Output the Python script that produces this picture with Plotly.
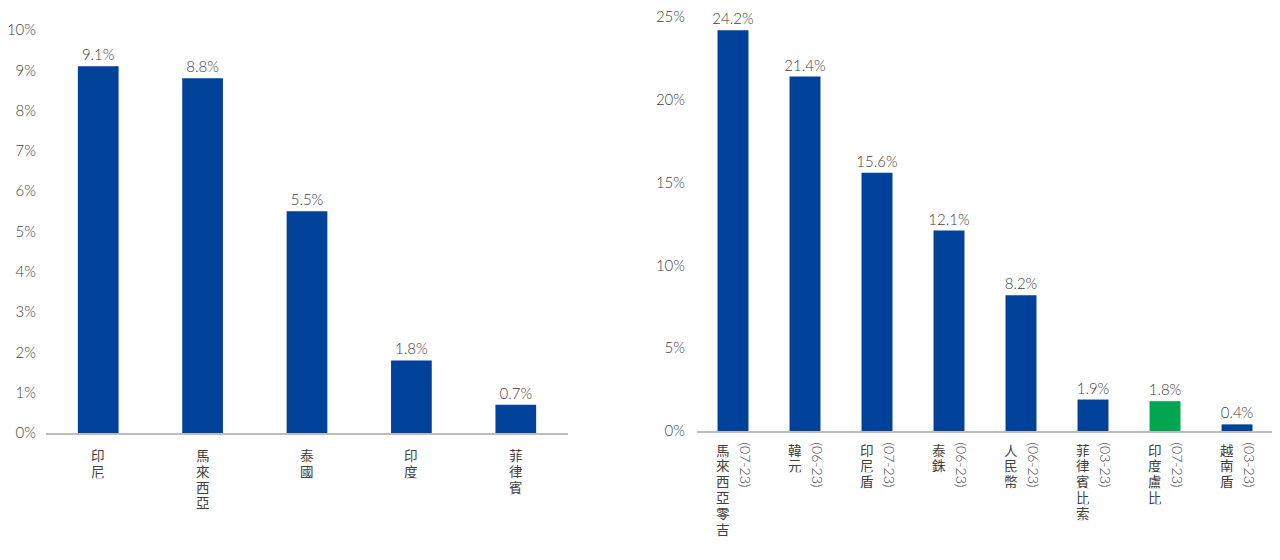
import plotly.graph_objects as go

# ---- data ----
left_cats = ["印尼", "馬來西亞", "泰國", "印度", "菲律賓"]
left_vals = [9.1, 8.8, 5.5, 1.8, 0.7]
left_ticks = [0, 1, 2, 3, 4, 5, 6, 7, 8, 9, 10]

right_names = ["馬來西亞零吉", "韓元", "印尼盾", "泰銖", "人民幣", "菲律賓比索", "印度盧比", "越南盾"]
right_dates = ["(07-23)", "(06-23)", "(07-23)", "(06-23)", "(06-23)", "(03-23)", "(07-23)", "(03-23)"]
right_vals = [24.2, 21.4, 15.6, 12.1, 8.2, 1.9, 1.8, 0.4]
right_ticks = [0, 5, 10, 15, 20, 25]
highlight = "印度盧比"

# ---- styles ----
OFF = 8                     # page body margin
W, H = 1280 - OFF, 560 - OFF
BLUE = "#00419a"
GREEN = "#00a650"
TXT = "#404040"
LATIN = "Lato, 'DejaVu Sans', sans-serif"
CJK = "'Noto Sans CJK TC', 'Noto Sans CJK SC', sans-serif"
AXIS_LINE = "#bcbcbc"
PITCH = 15.8
LAT_FONT = dict(family=LATIN, size=15, color=TXT, weight=300)

def px_x(p):
    return (p - OFF) / W

def px_y(p):
    return (H - (p - OFF)) / H

fig = go.Figure()

fig.add_trace(go.Bar(
    x=left_cats, y=left_vals, xaxis="x", yaxis="y", width=0.39,
    marker=dict(color=BLUE, line=dict(width=0)),
    text=[f"{v:.1f}%" for v in left_vals], textposition="outside",
    constraintext="none", textfont=LAT_FONT,
    cliponaxis=False, hoverinfo="skip", showlegend=False,
))

right_colors = [GREEN if n == highlight else BLUE for n in right_names]
fig.add_trace(go.Bar(
    x=right_names, y=right_vals, xaxis="x2", yaxis="y2", width=0.43,
    marker=dict(color=right_colors, line=dict(width=0)),
    text=[f"{v:.1f}%" for v in right_vals], textposition="outside",
    constraintext="none", textfont=LAT_FONT,
    cliponaxis=False, hoverinfo="skip", showlegend=False,
))

annotations = []
CJK_FONT = dict(family=CJK, size=13.5, color=TXT)

def char_stack(label, xref, top_px, xshift):
    for j, ch in enumerate(label):
        annotations.append(dict(
            x=label, xref=xref, y=px_y(top_px), yref="paper", yanchor="top",
            xshift=xshift, yshift=-j * PITCH, text=ch, showarrow=False,
            height=PITCH - 0.5, borderpad=0, valign="middle", font=CJK_FONT,
        ))

for cat in left_cats:
    char_stack(cat, "x", 446, 0)

for name, date in zip(right_names, right_dates):
    char_stack(name, "x2", 440.5, -10)
    annotations.append(dict(
        x=name, xref="x2", y=px_y(441), yref="paper", yanchor="top",
        xshift=12, text=date, textangle=90, showarrow=False, borderpad=0,
        font=dict(family=LATIN, size=14, color=TXT, weight=300),
    ))

fig.update_layout(
    width=W, height=H,
    margin=dict(l=0, r=0, t=0, b=0, pad=0, autoexpand=False),
    paper_bgcolor="white", plot_bgcolor="white",
    annotations=annotations,
    xaxis=dict(domain=[px_x(46), px_x(568)], anchor="y", showticklabels=False,
               showline=True, linecolor=AXIS_LINE, linewidth=1.5, ticks="",
               showgrid=False, zeroline=False, automargin=False),
    yaxis=dict(domain=[px_y(433), px_y(30)], anchor="x", range=[0, 10],
               tickvals=left_ticks, ticktext=[f"{t}%" for t in left_ticks],
               tickfont=LAT_FONT,
               showgrid=False, zeroline=False, showline=False, automargin=False,
               ticklabeloverflow="allow",
               ticks="outside", ticklen=6, tickcolor="rgba(0,0,0,0)"),
    xaxis2=dict(domain=[px_x(697), px_x(1273)], anchor="y2", showticklabels=False,
                showline=True, linecolor=AXIS_LINE, linewidth=1.5, ticks="",
                showgrid=False, zeroline=False, automargin=False),
    yaxis2=dict(domain=[px_y(431), px_y(17)], anchor="x2", range=[0, 25],
                tickvals=right_ticks, ticktext=[f"{t}%" for t in right_ticks],
                tickfont=LAT_FONT,
                showgrid=False, zeroline=False, showline=False, automargin=False,
                ticklabeloverflow="allow",
                ticks="outside", ticklen=8, tickcolor="rgba(0,0,0,0)"),
)

fig.write_html("out.html")
